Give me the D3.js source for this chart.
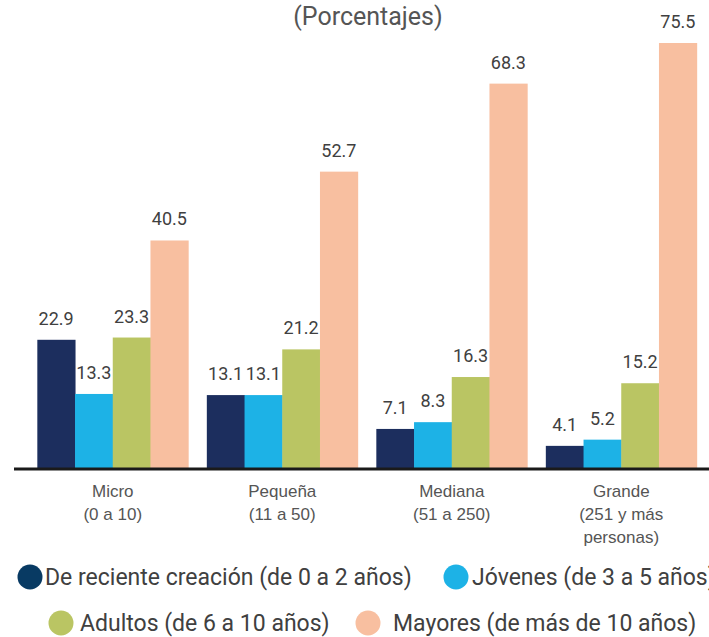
<!DOCTYPE html>
<html>
<head>
<meta charset="utf-8">
<script src="https://cdn.jsdelivr.net/npm/d3@7"></script>
<style>
  body { margin: 0; background: #fff; }
  svg { display: block; font-family: Roboto, "Open Sans", sans-serif; }
</style>
</head>
<body>
<svg id="chart" width="709" height="637"></svg>
<script>
// chart values
const categories = [
  ['Micro', '(0 a 10)'],
  ['Pequeña', '(11 a 50)'],
  ['Mediana', '(51 a 250)'],
  ['Grande', '(251 y más', 'personas)']
];
const seriesNames = [
  'De reciente creación (de 0 a 2 años)',
  'Jóvenes (de 3 a 5 años)',
  'Adultos (de 6 a 10 años)',
  'Mayores (de más de 10 años)'
];
const recientes = [22.9, 13.1, 7.1, 4.1];
const jovenes = [13.3, 13.1, 8.3, 5.2];
const adultos = [23.3, 21.2, 16.3, 15.2];
const mayores = [40.5, 52.7, 68.3, 75.5];
const colors = ['#1c2e5e', '#1db2e6', '#bac563', '#f8bfa0'];
const legendColors = ['#083a63', '#1db2e6', '#bac563', '#f8bfa0'];

const series = [recientes, jovenes, adultos, mayores];
const svg = d3.select('#chart');

const x0 = d3.scaleBand()
  .domain(d3.range(categories.length))
  .range([28, 706])
  .paddingInner(0.11)
  .paddingOuter(0.055);

const x1 = d3.scaleBand()
  .domain(d3.range(series.length))
  .range([0, x0.bandwidth()]);

const y = d3.scaleLinear()
  .domain([0, 75.5])
  .range([469, 43]);

// title
svg.append('text')
  .attr('x', 368).attr('y', 25)
  .attr('text-anchor', 'middle')
  .attr('font-size', 25)
  .attr('fill', '#555')
  .text('(Porcentajes)');

const groups = svg.selectAll('g.group')
  .data(categories)
  .join('g')
  .attr('class', 'group')
  .attr('transform', (_, i) => `translate(${x0(i)},0)`);

groups.selectAll('rect')
  .data((_, i) => series.map((s, k) => ({ k, v: s[i] })))
  .join('rect')
  .attr('x', d => x1(d.k))
  .attr('width', x1.bandwidth() + 0.5)
  .attr('y', d => y(d.v))
  .attr('height', d => y(0) - y(d.v))
  .attr('fill', d => colors[d.k]);

groups.selectAll('text.val')
  .data((_, i) => series.map((s, k) => ({ k, v: s[i] })))
  .join('text')
  .attr('class', 'val')
  .attr('x', d => x1(d.k) + x1.bandwidth() / 2)
  .attr('y', d => y(d.v) - 15)
  .attr('text-anchor', 'middle')
  .attr('font-size', 18)
  .attr('fill', '#404040')
  .text(d => d.v.toFixed(1));

// axis
const axis = svg.append('g')
  .attr('transform', `translate(0,${y(0)})`)
  .call(d3.axisBottom(x0).tickSize(0).tickFormat(''));
axis.select('.domain')
  .attr('d', 'M14,0H709')
  .attr('stroke', '#1a1a1a')
  .attr('stroke-width', 3);

axis.selectAll('.tick text').remove();
axis.selectAll('.tick')
  .append('text')
  .attr('text-anchor', 'middle')
  .attr('font-size', 17)
  .attr('fill', '#555')
  .selectAll('tspan')
  .data(i => categories[i])
  .join('tspan')
  .attr('x', 0)
  .attr('y', (_, j) => 28 + j * 23)
  .text(d => d);

// legend
const legendPos = [
  { cx: 30, cy: 577, tx: 45 },
  { cx: 456, cy: 577, tx: 472 },
  { cx: 61, cy: 623, tx: 80 },
  { cx: 368, cy: 623, tx: 393 }
];
const legend = svg.append('g')
  .selectAll('g')
  .data(seriesNames)
  .join('g');
legend.append('circle')
  .attr('cx', (_, i) => legendPos[i].cx)
  .attr('cy', (_, i) => legendPos[i].cy)
  .attr('r', 12.5)
  .attr('fill', (_, i) => legendColors[i]);
legend.append('text')
  .attr('x', (_, i) => legendPos[i].tx)
  .attr('y', (_, i) => legendPos[i].cy + 8)
  .attr('font-size', 23)
  .attr('fill', '#404040')
  .text(d => d);
</script>
</body>
</html>
